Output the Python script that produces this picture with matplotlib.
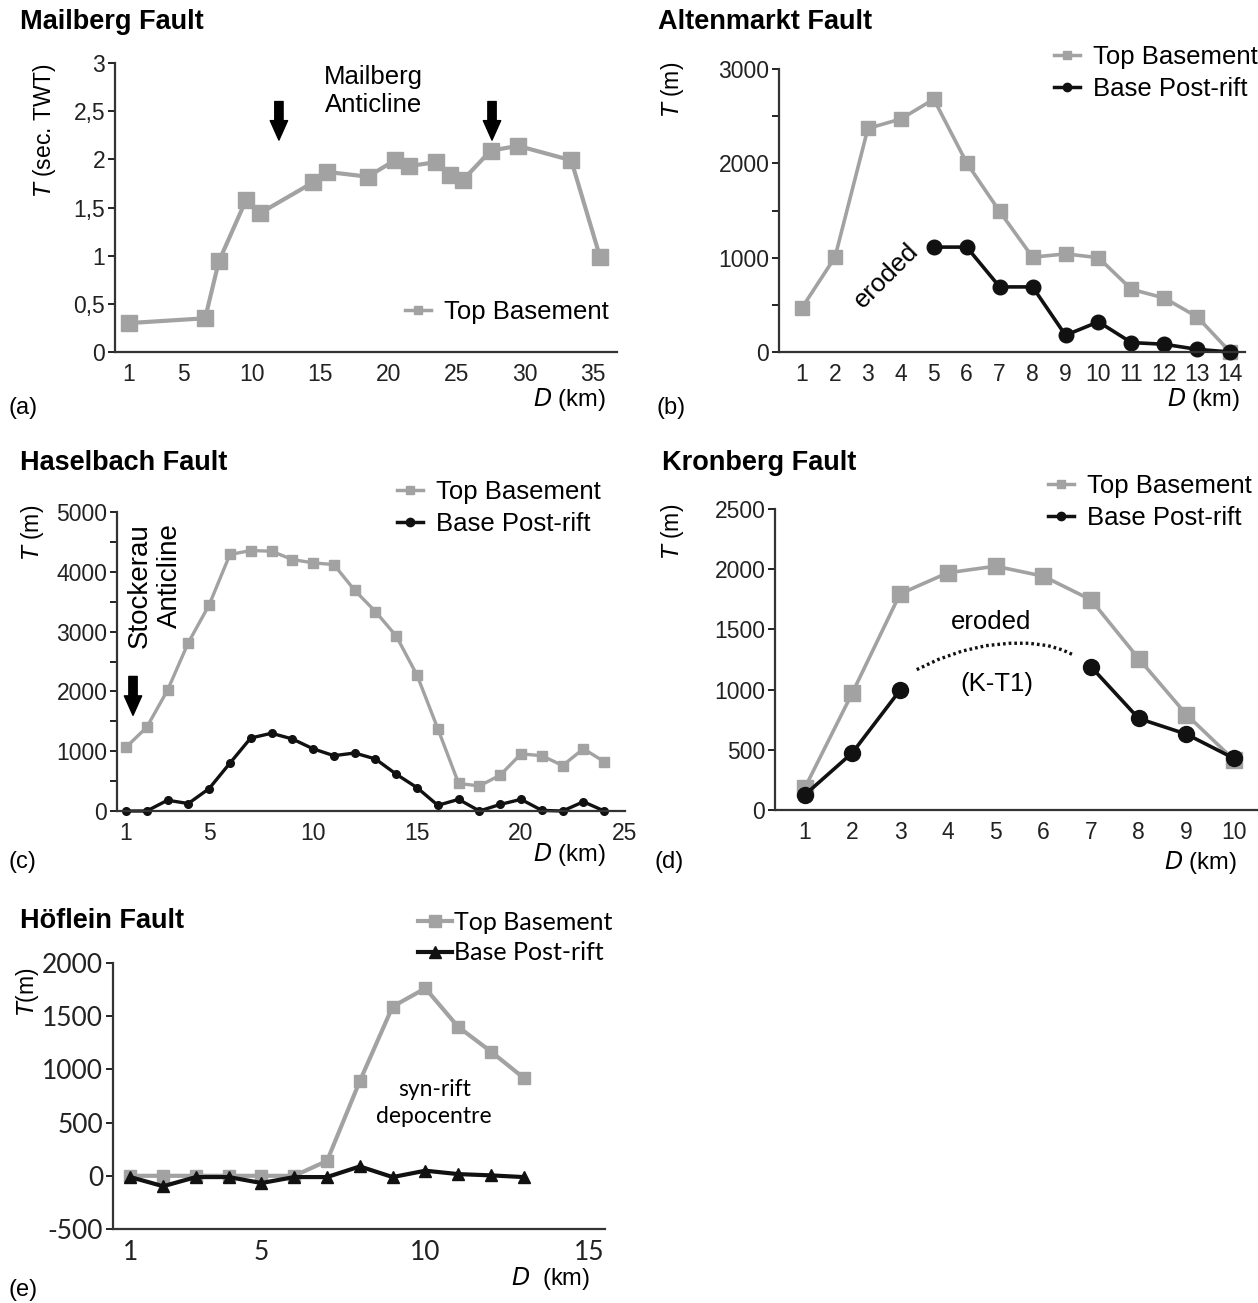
import matplotlib
matplotlib.use("Agg")
import matplotlib.pyplot as plt
from matplotlib.lines import Line2D

W, H = 1258, 1303
SANS = ["Liberation Sans", "DejaVu Sans"]
CAL = ["Lato", "DejaVu Sans"]
GRAY = "#a2a2a2"
BLACK = "#111111"
SPINE = "#333333"

# ---------------- data ----------------
# (a) Mailberg Fault
a_x = [1, 6.6, 7.6, 9.6, 10.6, 14.5, 15.5, 18.5, 20.5, 21.5, 23.5, 24.5, 25.5, 27.5, 29.5, 33.4, 35.5]
a_top = [0.30, 0.35, 0.94, 1.58, 1.44, 1.76, 1.87, 1.82, 1.99, 1.93, 1.97, 1.84, 1.79, 2.09, 2.14, 1.99, 0.99]
a_yticks = [0, 0.5, 1, 1.5, 2, 2.5, 3]
a_yticklabels = ["0", "0,5", "1", "1,5", "2", "2,5", "3"]
a_xticks = [1, 5, 10, 15, 20, 25, 30, 35]
a_arrows_x = [12.0, 27.6]

# (b) Altenmarkt Fault
b_x = list(range(1, 15))
b_top = [470, 1005, 2370, 2470, 2680, 2005, 1490, 1005, 1040, 1000, 665, 572, 372, 0]
b_post_x = [5, 6, 7, 8, 9, 10, 11, 12, 13, 14]
b_post = [1112, 1112, 690, 690, 178, 320, 100, 82, 28, 0]
b_yticks = [0, 500, 1000, 1500, 2000, 2500, 3000]
b_yticklabels = ["0", "", "1000", "", "2000", "", "3000"]
b_xticks = list(range(1, 15))

# (c) Haselbach Fault
c_x = list(range(1, 25))
c_top = [1065, 1400, 2020, 2815, 3445, 4290, 4355, 4345, 4205, 4150, 4120, 3690, 3335,
         2925, 2270, 1375, 460, 420, 600, 955, 925, 760, 1040, 825]
c_post = [0, 0, 180, 125, 375, 800, 1220, 1300, 1205, 1040, 925, 970, 870, 615, 390,
          95, 195, 0, 110, 195, 10, 0, 155, 0]
c_yticks = [0, 500, 1000, 1500, 2000, 2500, 3000, 3500, 4000, 4500, 5000]
c_yticklabels = ["0", "", "1000", "", "2000", "", "3000", "", "4000", "", "5000"]
c_xticks = [1, 5, 10, 15, 20, 25]

# (d) Kronberg Fault
d_x = list(range(1, 11))
d_top = [180, 972, 1795, 1970, 2025, 1942, 1746, 1257, 793, 414]
d_post_left_x = [1, 2, 3]
d_post_left = [124, 475, 995]
d_post_right_x = [7, 8, 9, 10]
d_post_right = [1190, 760, 630, 428]
d_eroded_x = [3.35, 3.8, 4.3, 4.8, 5.3, 5.7, 6.1, 6.4, 6.65]
d_eroded = [1166, 1250, 1320, 1365, 1385, 1385, 1365, 1330, 1285]
d_yticks = [0, 500, 1000, 1500, 2000, 2500]
d_xticks = list(range(1, 11))

# (e) Höflein Fault
e_x = list(range(1, 14))
e_top = [0, 0, 0, 0, 0, 0, 140, 890, 1590, 1762, 1400, 1168, 920]
e_post = [-12, -98, -12, -12, -68, -12, -12, 88, -12, 48, 16, 4, -12]
e_yticks = [-500, 0, 500, 1000, 1500, 2000]
e_xticks = [1, 5, 10, 15]

# ---------------- figure ----------------
fig = plt.figure(figsize=(W / 100, H / 100), dpi=100)

TICK = 16.5
TITLE = 19.5
LEG = 18.5
ANN = 18.5
LAB = 17


def px_axes(left, top, right, bottom):
    return fig.add_axes([left / W, 1 - bottom / H, (right - left) / W, (bottom - top) / H])


def style(ax, xlim, ylim, xticks, yticks, yticklabels=None, fam=SANS, tsize=TICK):
    ax.set_xlim(*xlim)
    ax.set_ylim(*ylim)
    for s in ("top", "right"):
        ax.spines[s].set_visible(False)
    for s in ("left", "bottom"):
        ax.spines[s].set_linewidth(1.6)
        ax.spines[s].set_color(SPINE)
    ax.set_xticks(xticks)
    ax.set_xticklabels([str(t) for t in xticks], family=fam, fontsize=tsize)
    ax.set_yticks(yticks)
    if yticklabels is None:
        yticklabels = [str(t) for t in yticks]
    ax.set_yticklabels(yticklabels, family=fam, fontsize=tsize)
    ax.tick_params(axis="x", length=0, pad=8, colors="#222222")
    ax.tick_params(axis="y", length=5, width=1.4, pad=2, colors="#222222")
    ax.patch.set_alpha(0)


def ftext(x, y, s, **kw):
    kw.setdefault("family", SANS)
    fig.text(x / W, 1 - y / H, s, **kw)


def legend(ax, handles, labels, x, y, fam=SANS, size=LEG, hl=1.0, tp=0.5, ls=0.3):
    ax.legend(handles, labels, loc="upper left", bbox_to_anchor=(x / W, 1 - y / H),
              bbox_transform=fig.transFigure, frameon=False, borderpad=0, borderaxespad=0,
              handlelength=hl, handletextpad=tp, labelspacing=ls,
              prop={"family": fam, "size": size})


ARROW = dict(arrowstyle="simple,head_width=1.25,head_length=1.4,tail_width=0.6",
             color="black", shrinkA=0, shrinkB=0)

top_handle = Line2D([], [], color=GRAY, lw=2.5, marker="s", ms=6)
post_handle = Line2D([], [], color=BLACK, lw=2.5, marker="o", ms=6)

# ---- (a) ----
ax = px_axes(115, 63, 617, 352)
style(ax, (0, 36.75), (0, 3), a_xticks, a_yticks, a_yticklabels)
ax.plot(a_x, a_top, color=GRAY, lw=3, marker="s", ms=12, clip_on=False)
for xa in a_arrows_x:
    ax.annotate("", xy=(xa, 2.2), xytext=(xa, 2.6), arrowprops=ARROW)
ax.text(18.9, 2.71, "Mailberg\nAnticline", ha="center", va="center", family=SANS, fontsize=ANN)
legend(ax, [top_handle], ["Top Basement"], 405, 300)
ftext(20, 22, "Mailberg Fault", fontsize=TITLE, fontweight="bold", va="center")
ftext(45, 130, r"$T$ (sec. TWT)", rotation=90, fontsize=16.5, ha="center", va="center")
ftext(8, 408, "(a)", fontsize=LAB, va="center")
ftext(606, 400, r"$D$ (km)", fontsize=LAB, ha="right", va="center")

# ---- (b) ----
ax = px_axes(779, 69, 1245, 352)
style(ax, (0.3, 14.45), (0, 3000), b_xticks, b_yticks, b_yticklabels)
ax.plot(b_x, b_top, color=GRAY, lw=2.6, marker="s", ms=10.5, clip_on=False)
ax.plot(b_post_x, b_post, color=BLACK, lw=2.6, marker="o", ms=10.5, clip_on=False)
ax.text(3.55, 810, "eroded", rotation=45, ha="center", va="center", family=SANS, fontsize=ANN)
legend(ax, [top_handle, post_handle], ["Top Basement", "Base Post-rift"], 1054, 45)
ftext(658, 22, "Altenmarkt Fault", fontsize=TITLE, fontweight="bold", va="center")
ftext(673, 89, r"$T$ (m)", rotation=90, fontsize=16.5, ha="center", va="center")
ftext(656, 408, "(b)", fontsize=LAB, va="center")
ftext(1240, 400, r"$D$ (km)", fontsize=LAB, ha="right", va="center")

# ---- (c) ----
ax = px_axes(117, 512, 625, 811)
style(ax, (0.57, 25), (0, 5000), c_xticks, c_yticks, c_yticklabels)
ax.plot(c_x, c_top, color=GRAY, lw=2.4, marker="s", ms=7.5, clip_on=False)
ax.plot(c_x, c_post, color=BLACK, lw=2.4, marker="o", ms=5.5, clip_on=False)
ax.annotate("", xy=(1.34, 1600), xytext=(1.34, 2250), arrowprops=ARROW)
ax.text(1.67, 4816, "Stockerau", rotation=90, ha="center", va="top", family=SANS, fontsize=20)
ax.text(3.1, 4816, "Anticline", rotation=90, ha="center", va="top", family=SANS, fontsize=20)
legend(ax, [top_handle, post_handle], ["Top Basement", "Base Post-rift"], 397, 480)
ftext(20, 463, "Haselbach Fault", fontsize=TITLE, fontweight="bold", va="center")
ftext(33, 532, r"$T$ (m)", rotation=90, fontsize=16.5, ha="center", va="center")
ftext(8, 862, "(c)", fontsize=LAB, va="center")
ftext(606, 855, r"$D$ (km)", fontsize=LAB, ha="right", va="center")

# ---- (d) ----
ax = px_axes(775, 509, 1258, 810)
style(ax, (0.38, 10.5), (0, 2500), d_xticks, d_yticks)
ax.plot(d_x, d_top, color=GRAY, lw=2.6, marker="s", ms=11, clip_on=False)
ax.plot(d_post_left_x, d_post_left, color=BLACK, lw=2.6, marker="o", ms=11.5, clip_on=False)
ax.plot(d_post_right_x, d_post_right, color=BLACK, lw=2.6, marker="o", ms=11.5, clip_on=False)
ax.plot(d_eroded_x, d_eroded, color=BLACK, lw=2.4, ls=(0, (0.8, 0.9)))
ax.text(4.9, 1560, "eroded", ha="center", va="center", family=SANS, fontsize=ANN)
ax.text(5.03, 1050, "(K-T1)", ha="center", va="center", family=SANS, fontsize=ANN)
legend(ax, [top_handle, post_handle], ["Top Basement", "Base Post-rift"], 1048, 474)
ftext(662, 463, "Kronberg Fault", fontsize=TITLE, fontweight="bold", va="center")
ftext(673, 531, r"$T$ (m)", rotation=90, fontsize=16.5, ha="center", va="center")
ftext(655, 862, "(d)", fontsize=LAB, va="center")
ftext(1237, 862, r"$D$ (km)", fontsize=LAB, ha="right", va="center")

# ---- (e) ----
ax = px_axes(113, 963, 605, 1229)
style(ax, (0.47, 15.48), (-500, 2000), e_xticks, e_yticks, fam=CAL, tsize=19)
ax.plot(e_x, e_top, color=GRAY, lw=3, marker="s", ms=9, clip_on=False)
ax.plot(e_x, e_post, color=BLACK, lw=3, marker="^", ms=8.5, clip_on=False)
ax.text(10.27, 683, "syn-rift\ndepocentre", ha="center", va="center", family=CAL,
        fontsize=16.5, linespacing=1.35)
e_top_h = Line2D([], [], color=GRAY, lw=3, marker="s", ms=9)
e_post_h = Line2D([], [], color=BLACK, lw=3, marker="^", ms=8.5)
legend(ax, [e_top_h, e_post_h], ["Top Basement", "Base Post-rift"], 418, 911,
       fam=CAL, size=18, hl=1.35, tp=0.1, ls=0.3)
ftext(20, 921, "Höflein Fault", fontsize=TITLE, fontweight="bold", va="center")
ftext(28, 992, r"$T$(m)", rotation=90, fontsize=16.5, ha="center", va="center")
ftext(8, 1290, "(e)", fontsize=LAB, va="center")
ftext(590, 1278, r"$D$  (km)", fontsize=LAB, ha="right", va="center")

fig.savefig("out.png", dpi=100)
